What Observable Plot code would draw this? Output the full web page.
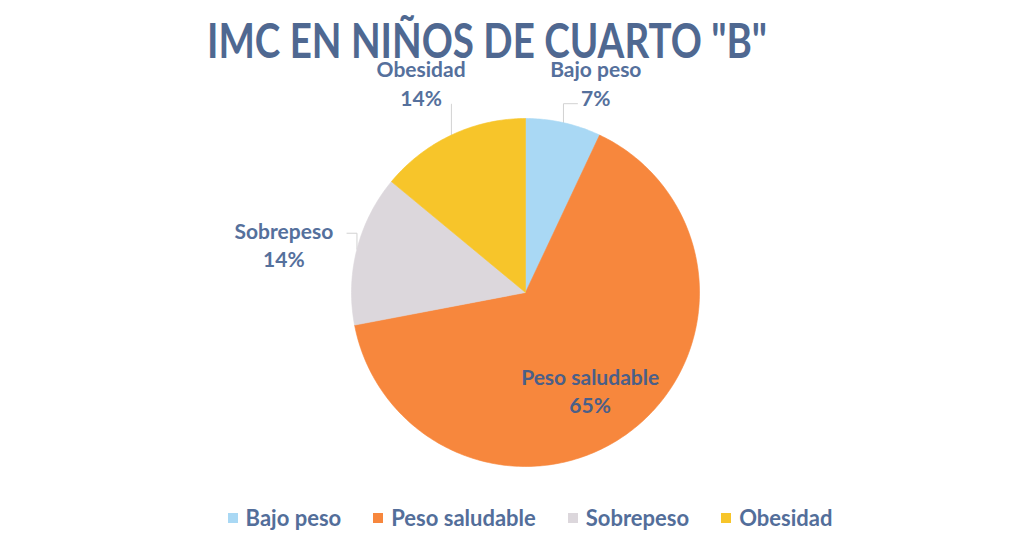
<!DOCTYPE html>
<html>
<head>
<meta charset="utf-8">
<script src="https://cdn.jsdelivr.net/npm/d3@7"></script>
<script src="https://cdn.jsdelivr.net/npm/@observablehq/plot@0.6"></script>
<style>
  html, body { margin: 0; padding: 0; background: #ffffff; }
  body { width: 1030px; height: 551px; position: relative; overflow: hidden; font-family: Lato, "Open Sans", sans-serif; }
  #title { position: absolute; left: 0; width: 974px; top: 21px; text-align: center; font-size: 47px; line-height: 0.85; font-weight: 700; color: #4f6891; transform: scaleX(0.82); transform-origin: 487px 0; white-space: nowrap; }
  #chart { position: absolute; left: 0; top: 0; }
  #legend { position: absolute; left: 0; width: 1060px; top: 504px; display: flex; justify-content: center; gap: 32px; font-size: 22px; font-weight: 700; color: #536e9a; }
  .item { display: flex; align-items: center; }
  .sw { width: 10px; height: 10px; margin-right: 8px; }
</style>
</head>
<body>
<div id="chart"></div>
<div id="title"></div>
<div id="legend"></div>
<script>
const titleText = 'IMC EN NIÑOS DE CUARTO "B"';
const categories = ["Bajo peso", "Peso saludable", "Sobrepeso", "Obesidad"];
const percents = [7, 65, 14, 14];
const colors = ["#a9d8f4", "#f7873d", "#dcd7dc", "#f7c52a"];

// label layout (not data): radius factor and pixel offsets
const labelLayout = {
  "Bajo peso":      {r: 1.22, dx: 24, dy: -3, fill: "#55709c"},
  "Peso saludable": {r: 0.70, dx: -10, dy: 1, fill: "#4b5f88"},
  "Sobrepeso":      {r: 1.22, dx: -36, dy: 4, fill: "#55709c"},
  "Obesidad":       {r: 1.22, dx: -14, dy: -18, fill: "#55709c"}
};
// leader layout: pixels up from slice edge, then horizontal pixels
const leaderLayout = {
  "Bajo peso": {up: 19, h: 14},
  "Sobrepeso": {up: 16, h: -10},
  "Obesidad":  {up: 31, h: 0}
};
const R = 174; // pie radius in px

document.getElementById("title").textContent = titleText;

const arcs = d3.pie().sort(null).value(d => d)(percents);
const slicePts = [];
arcs.forEach((a, i) => {
  const cat = categories[i];
  slicePts.push({cat, x: 0, y: 0});
  const steps = Math.max(2, Math.ceil((a.endAngle - a.startAngle) / (Math.PI / 180)));
  for (let k = 0; k <= steps; k++) {
    const t = a.startAngle + (a.endAngle - a.startAngle) * k / steps;
    slicePts.push({cat, x: Math.sin(t), y: Math.cos(t)});
  }
  slicePts.push({cat, x: 0, y: 0});
});

const labels = arcs.map((a, i) => {
  const cat = categories[i];
  const L = labelLayout[cat];
  const m = (a.startAngle + a.endAngle) / 2;
  return {cat, x: L.r * Math.sin(m), y: L.r * Math.cos(m), dx: L.dx, dy: L.dy, fill: L.fill,
          text: cat + "\n" + percents[i] + "%"};
});

const leaderPts = [];
arcs.forEach((a, i) => {
  const cat = categories[i];
  const L = leaderLayout[cat];
  if (!L) return;
  const m = (a.startAngle + a.endAngle) / 2;
  const ex = Math.sin(m), ey = Math.cos(m);
  leaderPts.push({cat, x: ex, y: ey});
  leaderPts.push({cat, x: ex, y: ey + L.up / R});
  leaderPts.push({cat, x: ex + L.h / R, y: ey + L.up / R});
});

const plot = Plot.plot({
  width: 1030,
  height: 551,
  marginLeft: 351,
  marginRight: 331,
  marginTop: 118,
  marginBottom: 85,
  x: {domain: [-1, 1], axis: null},
  y: {domain: [-1, 1], axis: null},
  color: {domain: categories, range: colors},
  style: {background: "transparent", overflow: "visible"},
  marks: [
    Plot.line(leaderPts, {x: "x", y: "y", z: "cat", stroke: "#d2d2d2", strokeWidth: 1, curve: "linear"}),
    Plot.line(slicePts, {x: "x", y: "y", z: "cat", fill: "cat", stroke: "cat", strokeWidth: 0.6, curve: "linear"}),
    ...labels.map(l => Plot.text([l], {
      x: "x", y: "y", text: "text", dx: l.dx, dy: l.dy, fill: l.fill,
      fontSize: 21, fontWeight: 700, fontFamily: "Lato, 'Open Sans', sans-serif",
      lineHeight: 1.35, textAnchor: "middle"
    }))
  ]
});
document.getElementById("chart").appendChild(plot);

const legend = document.getElementById("legend");
categories.forEach((c, i) => {
  const item = document.createElement("div");
  item.className = "item";
  const sw = document.createElement("span");
  sw.className = "sw";
  sw.style.background = colors[i];
  const t = document.createElement("span");
  t.textContent = c;
  item.appendChild(sw);
  item.appendChild(t);
  legend.appendChild(item);
});
</script>
</body>
</html>
